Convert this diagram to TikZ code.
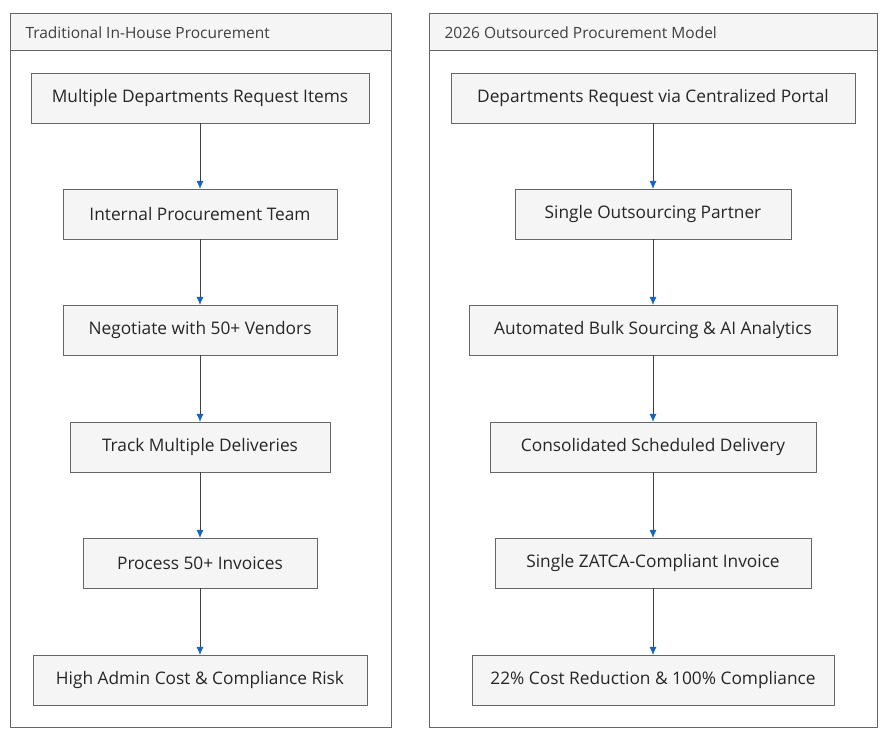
\documentclass[tikz,border=0pt]{standalone}
\usepackage{fontspec}
\setmainfont{Open Sans}
\usetikzlibrary{arrows.meta}
\definecolor{boxfill}{HTML}{F5F5F5}
\definecolor{edge}{HTML}{666666}
\definecolor{tip}{HTML}{1565C0}
\tikzset{
  stage/.style={draw=edge,fill=boxfill,minimum height=50pt,font=\fontsize{17.3}{20}\selectfont,text=black!85},
  flow/.style={draw=black!75,-{Latex[length=8pt,width=7pt,fill=tip,color=tip]}},
  panel/.style={draw=edge,fill=white},
  band/.style={draw=edge,fill=boxfill}
}
\begin{document}
\begin{tikzpicture}[x=1pt,y=-1pt]
\useasboundingbox (0,0) rectangle (889,737);
% panels
\draw[panel] (10,13) rectangle (391,727);
\draw[band]  (10,13) rectangle (391,50);
\node[anchor=west,font=\fontsize{15.5}{18}\selectfont,text=black!75] (lhead) at (22,33) {Traditional In-House Procurement};
\draw[panel] (429,13) rectangle (877,727);
\draw[band]  (429,13) rectangle (877,50);
\node[anchor=west,font=\fontsize{15.5}{18}\selectfont,text=black!75] (rhead) at (441,33) {2026 Outsourced Procurement Model};
% left column
\node[stage,minimum width=338pt] (l1) at (200,98)  {Multiple Departments Request Items};
\node[stage,minimum width=274pt] (l2) at (200,214) {Internal Procurement Team};
\node[stage,minimum width=274pt] (l3) at (200,330) {Negotiate with 50+ Vendors};
\node[stage,minimum width=260pt] (l4) at (200,447) {Track Multiple Deliveries};
\node[stage,minimum width=234pt] (l5) at (200,563) {Process 50+ Invoices};
\node[stage,minimum width=334pt] (l6) at (200,680) {High Admin Cost \& Compliance Risk};
% right column
\node[stage,minimum width=404pt] (r1) at (653,98)  {Departments Request via Centralized Portal};
\node[stage,minimum width=276pt] (r2) at (653,214) {Single Outsourcing Partner};
\node[stage,minimum width=368pt] (r3) at (653,330) {Automated Bulk Sourcing \& AI Analytics};
\node[stage,minimum width=326pt] (r4) at (653,447) {Consolidated Scheduled Delivery};
\node[stage,minimum width=316pt] (r5) at (653,563) {Single ZATCA-Compliant Invoice};
\node[stage,minimum width=362pt] (r6) at (653,680) {22\% Cost Reduction \& 100\% Compliance};
\foreach \a/\b in {1/2,2/3,3/4,4/5,5/6}{
  \draw[flow] (l\a) -- (l\b);
  \draw[flow] (r\a) -- (r\b);
}
\end{tikzpicture}
\end{document}
